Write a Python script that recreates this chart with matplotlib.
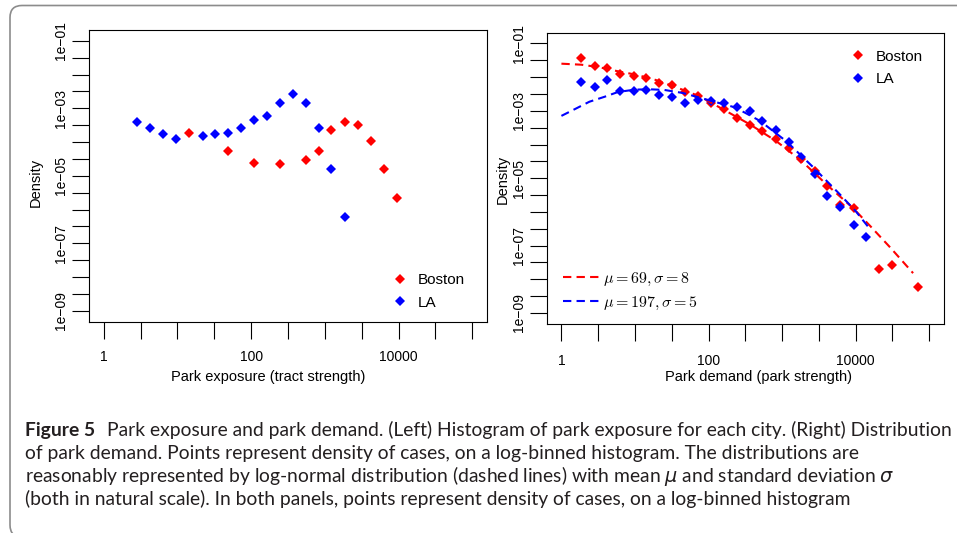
import numpy as np
import matplotlib
matplotlib.use("Agg")
import matplotlib.pyplot as plt
from matplotlib.lines import Line2D
from matplotlib.patches import FancyBboxPatch
from matplotlib.transforms import IdentityTransform
from matplotlib.font_manager import FontProperties
from matplotlib.ticker import FixedLocator, NullLocator

plt.rcParams['font.family'] = ['Liberation Sans', 'DejaVu Sans']
plt.rcParams['mathtext.fontset'] = 'cm'

# ---------------- data (log10 values) ----------------
# Left panel: park exposure histogram
exp_bos_log10x = [1.16, 1.69, 2.04, 2.39, 2.74, 2.92, 3.09, 3.27, 3.45, 3.62, 3.80, 3.98]
exp_bos_log10y = [-3.74, -4.26, -4.62, -4.66, -4.54, -4.26, -3.65, -3.41, -3.49, -3.96, -4.80, -5.65]
exp_la_log10x = [0.45, 0.63, 0.81, 0.98, 1.34, 1.51, 1.69, 1.86, 2.04, 2.21, 2.39, 2.57, 2.74, 2.92, 3.09, 3.27]
exp_la_log10y = [-3.40, -3.58, -3.76, -3.92, -3.81, -3.77, -3.74, -3.58, -3.35, -3.23, -2.83, -2.59, -2.83, -3.57, -4.79, -6.23]

# Right panel: park demand histogram
dem_bos_log10x = [0.27, 0.45, 0.62, 0.80, 0.98, 1.15, 1.33, 1.50, 1.68, 1.85, 2.03, 2.21, 2.38,
                  2.56, 2.73, 2.91, 3.09, 3.26, 3.44, 3.61, 3.79, 3.97, 4.32, 4.50, 4.85]
dem_bos_log10y = [-1.42, -1.66, -1.72, -1.91, -1.96, -2.02, -2.16, -2.24, -2.43, -2.55, -2.78, -2.96, -3.20,
                  -3.42, -3.61, -3.83, -4.09, -4.44, -4.80, -5.23, -5.81, -5.89, -7.70, -7.58, -8.23]
dem_la_log10x = [0.27, 0.45, 0.62, 0.80, 0.98, 1.15, 1.33, 1.50, 1.68, 1.85, 2.03, 2.21, 2.38,
                 2.56, 2.73, 2.91, 3.09, 3.26, 3.44, 3.61, 3.79, 3.97, 4.14]
dem_la_log10y = [-2.14, -2.28, -2.09, -2.40, -2.41, -2.39, -2.54, -2.58, -2.76, -2.68, -2.71, -2.76, -2.88,
                 -3.01, -3.31, -3.56, -3.94, -4.38, -4.88, -5.52, -5.86, -6.40, -6.75]

# Dashed log-normal fit curves
fit_bos_log10x = [0.0, 0.27, 0.5, 0.8, 1.0, 1.25, 1.5, 1.88, 2.2, 2.56, 2.92, 3.26, 3.62, 3.96, 4.21, 4.47, 4.78]
fit_bos_log10y = [-1.60, -1.63, -1.70, -1.84, -1.92, -2.06, -2.25, -2.57, -2.96, -3.40, -3.90, -4.48, -5.22,
                  -5.88, -6.45, -7.06, -7.82]
fit_la_log10x = [0.0, 0.2, 0.38, 0.59, 0.77, 1.0, 1.2, 1.4, 1.65, 2.03, 2.33, 2.49, 2.70, 3.06, 3.42, 3.78, 4.0, 4.19]
fit_la_log10y = [-3.15, -2.93, -2.73, -2.58, -2.44, -2.37, -2.36, -2.38, -2.47, -2.70, -2.88, -3.05, -3.30,
                 -3.91, -4.67, -5.47, -5.98, -6.50]

series_names = ['Boston', 'LA']
fit_labels = [r'$\mu = 69, \sigma = 8$', r'$\mu = 197, \sigma = 5$']

x_tick_exps = [0, 0.5, 1, 1.5, 2, 2.5, 3, 3.5, 4, 4.5, 5]
x_tick_labels = ['1', '', '', '', '100', '', '', '', '10000', '', '']
y_tick_exps = [-9, -8.5, -8, -7.5, -7, -6.5, -6, -5.5, -5, -4.5, -4, -3.5, -3, -2.5, -2, -1.5, -1]
y_tick_labels = ['1e\u221209', '', '', '', '1e\u221207', '', '', '', '1e\u221205', '', '', '', '1e\u221203',
                 '', '', '', '1e\u221201']

caption_bold = "Figure 5"
caption_lines = [
    "Park exposure and park demand. (Left) Histogram of park exposure for each city. (Right) Distribution",
    "of park demand. Points represent density of cases, on a log-binned histogram. The distributions are",
    r"reasonably represented by log-normal distribution (dashed lines) with mean $\mu$ and standard deviation $\sigma$",
    "(both in natural scale). In both panels, points represent density of cases, on a log-binned histogram",
]

RED = '#ff0000'
BLUE = '#0000ff'

# ---------------- figure ----------------
W, H = 957, 533
fig = plt.figure(figsize=(W / 100, H / 100), dpi=100)


def px_axes(x0, y0, x1, y1):
    return fig.add_axes([x0 / W, 1 - y1 / H, (x1 - x0) / W, (y1 - y0) / H])


axL = px_axes(89, 30, 487, 322)
axR = px_axes(546.7, 32.7, 944, 324)


def pw(a):
    return 10.0 ** np.asarray(a, dtype=float)


for ax, xpad in ((axL, 8.0), (axR, 9.5)):
    ax.set_xscale('log')
    ax.set_yscale('log')
    ax.set_xlim(10 ** -0.2, 10 ** 5.2)
    ax.set_ylim(10 ** -9.33, 10 ** -0.68)
    ax.xaxis.set_major_locator(FixedLocator(pw(x_tick_exps)))
    ax.xaxis.set_minor_locator(NullLocator())
    ax.yaxis.set_major_locator(FixedLocator(pw(y_tick_exps)))
    ax.yaxis.set_minor_locator(NullLocator())
    ax.set_xticklabels(x_tick_labels)
    ax.set_yticklabels(y_tick_labels, rotation=90, va='center')
    ax.tick_params(axis='both', direction='out', length=12.2, width=0.8, color='black',
                   labelsize=10, labelcolor='black')
    ax.tick_params(axis='x', pad=xpad)
    ax.tick_params(axis='y', pad=3)
    for s in ax.spines.values():
        s.set_linewidth(0.8)
        s.set_color('black')

mk = dict(ls='none', marker='D', ms=4.9, mew=0)

# left panel
axL.plot(pw(exp_bos_log10x), pw(exp_bos_log10y), color=RED, **mk)
axL.plot(pw(exp_la_log10x), pw(exp_la_log10y), color=BLUE, **mk)

# right panel
axR.plot(pw(dem_bos_log10x), pw(dem_bos_log10y), color=RED, **mk)
axR.plot(pw(dem_la_log10x), pw(dem_la_log10y), color=BLUE, **mk)
dash = (0, (4, 2.5))
axR.plot(pw(fit_bos_log10x), pw(fit_bos_log10y), color=RED, ls=dash, lw=1.5)
axR.plot(pw(fit_la_log10x), pw(fit_la_log10y), color=BLUE, ls=dash, lw=1.5)

# axis labels
fig.text(35.5 / W, 1 - 182.5 / H, 'Density', rotation=90, ha='center', va='center', fontsize=10.5)
fig.text(268.5 / W, 1 - 376.5 / H, 'Park exposure (tract strength)', ha='center', va='center', fontsize=10.5)
fig.text(503 / W, 1 - 179 / H, 'Density', rotation=90, ha='center', va='center', fontsize=10.5)
fig.text(758.3 / W, 1 - 376.5 / H, 'Park demand (park strength)', ha='center', va='center', fontsize=10.5)

# legends
hB = Line2D([], [], color=RED, **mk)
hL = Line2D([], [], color=BLUE, **mk)
leg_kw = dict(loc='upper left', frameon=False, borderpad=0, borderaxespad=0, numpoints=1,
              handlelength=1.0, handletextpad=0.66, labelspacing=0.57, prop={'size': 11})
axL.legend([hB, hL], series_names, bbox_to_anchor=(0.762, 0.168), **leg_kw)
legR = axR.legend([hB, hL], series_names, bbox_to_anchor=(0.7635, 0.942), **leg_kw)
axR.add_artist(legR)
fB = Line2D([], [], color=RED, ls=dash, lw=1.5)
fL = Line2D([], [], color=BLUE, ls=dash, lw=1.5)
fp = FontProperties(size=11.5)
fp.set_math_fontfamily('cm')
axR.legend([fB, fL], fit_labels, loc='upper left', bbox_to_anchor=(0.040, 0.183), frameon=False,
           borderpad=0, borderaxespad=0, handlelength=2.3, handletextpad=0.26, labelspacing=0.42, prop=fp)

# frame around the figure panel
frame = FancyBboxPatch((10, -4), W + 40, H - 5.5 + 4, boxstyle='round,pad=0,rounding_size=12',
                       transform=IdentityTransform(), fill=False, ec='#8c8c8c', lw=1.2)
fig.add_artist(frame)

# caption, fitted to the width of the first line
cap_family = ['Lato', 'Liberation Sans', 'DejaVu Sans']
cap_color = '#231f20'
left_px, right_px = 25, 950
baselines = [436, 459, 482, 505]
fig.canvas.draw()
renderer = fig.canvas.get_renderer()
fs = 12.0
tb = fig.text(left_px / W, 1 - baselines[0] / H, caption_bold, fontsize=fs, fontweight='bold',
              family=cap_family, va='baseline', ha='left', color=cap_color)
tr = fig.text(0.5, 1 - baselines[0] / H, caption_lines[0], fontsize=fs, family=cap_family,
              va='baseline', ha='left', color=cap_color)
for _ in range(4):
    gap = 0.6 * fs * 100 / 72
    wtot = tb.get_window_extent(renderer).width + gap + tr.get_window_extent(renderer).width
    fs *= (right_px - left_px) / wtot
    tb.set_fontsize(fs)
    tr.set_fontsize(fs)
gap = 0.6 * fs * 100 / 72
tr.set_x((left_px + tb.get_window_extent(renderer).width + gap) / W)
for line, b in zip(caption_lines[1:], baselines[1:]):
    t = fig.text(left_px / W, 1 - b / H, line, fontsize=fs, family=cap_family, va='baseline',
                 ha='left', color=cap_color)
    t.set_math_fontfamily('dejavusans')

fig.savefig('out.png', dpi=100)
